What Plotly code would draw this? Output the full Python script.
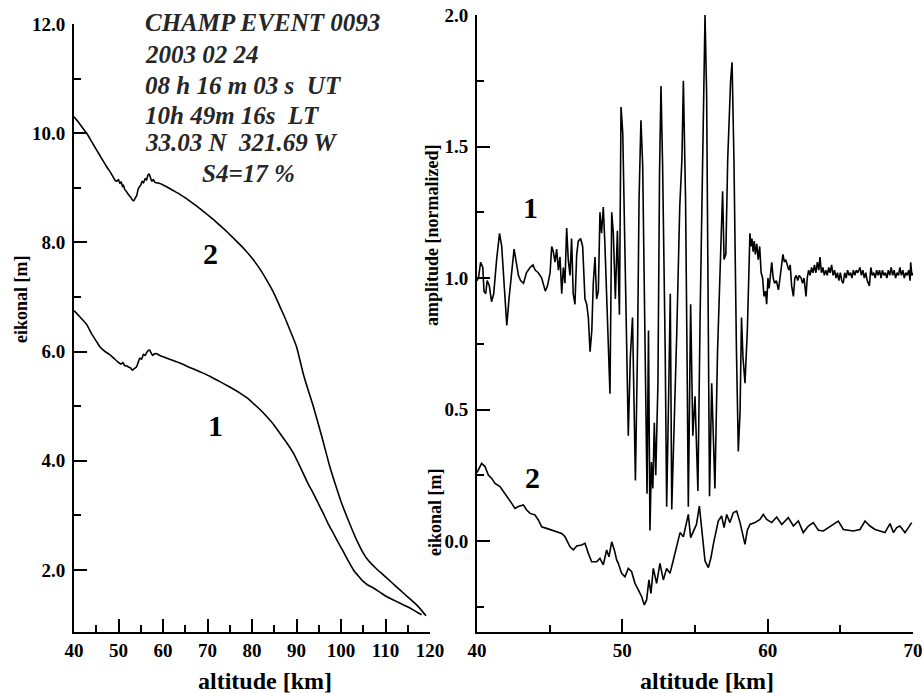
import plotly.graph_objects as go

# ---------------- data: left panel (eikonal vs altitude) ----------------
alt_l1 = [40.0, 41.5, 42.9, 44.0, 45.1, 45.8, 47.0, 48.1, 49.2, 50.0, 50.6, 51.0, 51.4, 51.8,
          52.2, 52.7, 53.1, 53.4, 53.8, 54.1, 54.5, 54.8, 55.2, 55.6, 56.0, 56.3, 56.7, 57.0,
          57.3, 57.7, 58.1, 58.6, 59.3, 61.5, 63.8, 66.0, 68.3, 70.5, 72.8, 75.0, 77.3, 78.9,
          80.3, 81.8, 83.3, 84.8, 86.3, 87.8, 89.3, 90.4, 91.5, 92.6, 93.8, 94.9, 96.0, 97.1,
          98.3, 99.4, 100.5, 101.6, 102.8, 103.9, 105.0, 106.1, 107.3, 108.8, 110.3, 111.8,
          113.3, 114.8, 116.2, 117.2, 118.1]
eik_l1 = [6.75, 6.62, 6.49, 6.32, 6.18, 6.09, 6.00, 5.94, 5.86, 5.80, 5.77, 5.80, 5.74, 5.74,
          5.72, 5.70, 5.66, 5.68, 5.70, 5.73, 5.82, 5.88, 5.86, 5.95, 5.93, 5.98, 6.02, 6.03,
          5.98, 5.93, 5.96, 5.96, 5.93, 5.86, 5.79, 5.71, 5.63, 5.55, 5.45, 5.35, 5.24, 5.15,
          5.05, 4.94, 4.81, 4.67, 4.50, 4.33, 4.14, 3.96, 3.77, 3.58, 3.40, 3.22, 3.04, 2.85,
          2.67, 2.50, 2.34, 2.17, 2.00, 1.89, 1.79, 1.72, 1.67, 1.59, 1.51, 1.45,
          1.39, 1.33, 1.27, 1.22, 1.18]

alt_l2 = [40.0, 41.0, 42.0, 42.85, 44.0, 45.1, 46.2, 47.3, 48.3, 49.2, 49.6, 50.0, 50.3, 50.6,
          50.9, 51.1, 51.4, 51.8, 52.2, 52.7, 53.1, 53.4, 53.8, 54.1, 54.4, 54.7, 55.0, 55.3,
          55.6, 56.0, 56.3, 56.6, 56.9, 57.2, 57.5, 57.8, 58.2, 58.6, 59.3, 60.8, 62.3, 63.8,
          65.3, 66.8, 68.3, 69.8, 71.3, 72.8, 74.3, 75.8, 77.3, 78.8, 80.3, 81.8, 83.3, 84.8,
          86.3, 87.4, 88.5, 90.0, 91.5, 92.6, 93.8, 95.7, 97.5, 99.0, 100.1, 101.3, 102.4,
          103.5, 104.6, 105.8, 107.6, 109.5, 111.4, 113.3, 115.1, 117.0, 118.1, 119.1]
eik_l2 = [10.30, 10.20, 10.09, 10.00, 9.84, 9.69, 9.54, 9.39, 9.27, 9.14, 9.12, 9.15, 9.08, 9.11,
          9.02, 9.05, 8.97, 8.93, 8.88, 8.83, 8.78, 8.76, 8.82, 8.86, 8.97, 9.02, 9.05, 9.12,
          9.09, 9.17, 9.14, 9.23, 9.25, 9.18, 9.12, 9.15, 9.10, 9.09, 9.08, 9.02, 8.95, 8.88,
          8.80, 8.71, 8.62, 8.52, 8.42, 8.31, 8.20, 8.08, 7.96, 7.83, 7.68, 7.51, 7.31, 7.09,
          6.82, 6.62, 6.40, 6.09, 5.60, 5.30, 4.99, 4.44, 3.89, 3.50, 3.23, 2.98, 2.76,
          2.55, 2.37, 2.21, 2.05, 1.91, 1.77, 1.63, 1.50, 1.36, 1.26, 1.16]

# ---------------- data: right panel ----------------
# curve 1: amplitude [normalized]
alt_r1 = [40.0, 40.1, 40.25, 40.4, 40.48, 40.6, 40.7, 40.85, 41.0, 41.15, 41.35, 41.55, 41.7,
          41.87, 42.05, 42.2, 42.4, 42.55, 42.7, 42.85, 43.0, 43.2, 43.4, 43.65, 43.85, 44.0,
          44.22, 44.45, 44.7, 44.85, 45.03, 45.14, 45.25, 45.37, 45.48, 45.6, 45.71, 45.83,
          45.94, 46.05, 46.17, 46.28, 46.4, 46.51, 46.62, 46.74, 46.86, 46.97, 47.13, 47.27,
          47.43, 47.55, 47.66, 47.78, 47.9, 48.0, 48.12, 48.23, 48.35, 48.46, 48.57, 48.69,
          48.8, 48.92, 49.04, 49.15, 49.27, 49.38, 49.52, 49.66, 49.8, 49.91, 50.03, 50.18,
          50.3, 50.41, 50.55, 50.7, 50.9, 51.05, 51.15, 51.28, 51.4, 51.55, 51.7, 51.8, 51.9,
          52.0, 52.1, 52.2, 52.3, 52.45, 52.56, 52.66, 52.77, 52.95, 53.05, 53.2, 53.3, 53.4,
          53.55, 53.75, 53.95, 54.1, 54.2, 54.35, 54.45, 54.54, 54.7, 54.85, 55.0, 55.2,
          55.35, 55.55, 55.69, 55.8, 55.92, 56.0, 56.15, 56.37, 56.55, 56.75, 56.9, 57.0,
          57.12, 57.25, 57.45, 57.55, 57.68, 57.85, 57.98, 58.1, 58.2, 58.3, 58.44, 58.6,
          58.78, 58.85, 58.92, 59.0, 59.08, 59.15, 59.25, 59.35, 59.45, 59.55, 59.65, 59.75,
          59.85, 59.93, 60.02, 60.1, 60.2, 60.28, 60.38, 60.48, 60.6, 60.74, 60.85, 60.95,
          61.05, 61.15, 61.25, 61.35, 61.45, 61.55, 61.65, 61.77, 61.87, 61.97, 62.07, 62.17,
          62.3, 62.4, 62.5, 62.64, 62.72, 62.82, 62.92, 63.02, 63.12, 63.22, 63.32, 63.42,
          63.52, 63.6, 63.7, 63.8, 63.9, 64.0, 64.1, 64.2, 64.3, 64.4, 64.5, 64.6, 64.7, 64.8,
          64.9, 65.0, 65.1, 65.2, 65.3, 65.4, 65.5, 65.6, 65.7, 65.8, 65.9, 66.0, 66.1, 66.2,
          66.35, 66.45, 66.55, 66.65, 66.75, 66.85, 67.0, 67.1, 67.2, 67.3, 67.4, 67.5, 67.6,
          67.7, 67.8, 67.9, 68.0, 68.1, 68.2, 68.3, 68.4, 68.5, 68.6, 68.7, 68.8, 68.9, 69.0,
          69.1, 69.2, 69.3, 69.4, 69.5, 69.6, 69.7, 69.8, 69.84, 69.92, 70.0]
amp_r1 = [0.99, 1.00, 1.06, 1.04, 0.95, 0.94, 0.99, 0.97, 0.91, 0.94, 1.07, 1.17, 1.12,
          0.95, 0.82, 0.92, 1.04, 1.11, 1.06, 1.01, 0.99, 0.98, 1.02, 1.04, 1.05, 1.03,
          1.02, 1.00, 0.95, 0.97, 1.02, 1.12, 1.10, 1.06, 1.11, 1.03, 1.08, 0.94,
          1.04, 0.98, 1.19, 1.07, 1.01, 1.15, 0.94, 0.90, 1.09, 1.14, 1.15, 1.12,
          0.92, 0.90, 0.85, 0.72, 0.80, 0.98, 1.08, 0.92, 0.95, 1.25, 1.17, 1.27,
          1.13, 0.92, 0.77, 0.56, 1.25, 1.17, 0.92, 1.18, 0.86, 1.65, 1.55, 1.17,
          0.74, 0.40, 0.70, 0.85, 0.23, 0.75, 1.30, 1.60, 1.43, 0.80, 0.18, 0.80, 0.04,
          0.30, 0.20, 0.45, 0.25, 0.60, 1.40, 1.73, 1.43, 0.72, 0.13, 0.60, 0.94, 0.12,
          0.40, 0.80, 1.27, 1.45, 1.75, 1.30, 0.72, 0.13, 0.90, 0.40, 0.55, 0.19,
          0.85, 1.60, 2.00, 1.70, 0.72, 0.17, 0.60, 0.20, 0.72, 1.10, 1.33, 1.07,
          1.09, 1.45, 1.75, 1.82, 1.45, 0.73, 0.34, 0.49, 0.85, 0.70, 0.60, 0.80,
          1.17, 1.12, 1.15, 1.10, 1.14, 1.09, 1.13, 1.07, 1.12, 1.02, 1.00, 0.93,
          0.95, 0.90, 1.00, 0.96, 1.03, 1.06, 1.00, 0.98, 0.99, 0.955, 1.00, 1.05,
          1.09, 1.06, 1.07, 1.05, 1.03, 1.05, 0.97, 0.93, 1.00, 1.01, 0.99, 1.01,
          1.00, 0.98, 1.00, 0.93, 1.00, 1.03, 1.01, 1.04, 1.02, 1.05, 1.02, 1.06,
          1.03, 1.08, 1.02, 1.04, 1.01, 1.03, 1.01, 1.04, 1.02, 1.05, 1.01, 1.03, 1.00, 1.02,
          0.99, 1.02, 0.99, 0.98, 1.02, 1.00, 1.03, 1.01, 1.02, 1.00, 1.03, 1.01, 1.03, 1.02,
          1.04, 1.01, 1.03, 1.00, 1.02, 0.99, 0.97, 1.04, 1.01, 1.02, 1.00, 1.03, 1.01,
          1.03, 1.00, 1.03, 1.01, 1.02, 1.00, 1.03, 1.01, 1.04, 1.01, 1.03, 1.00, 1.02, 1.01,
          1.04, 1.01, 1.03, 1.00, 1.02, 1.01, 1.03, 0.99, 1.06, 1.01, 1.02]

# curve 2: eikonal [m]
alt_r2 = [40.0, 40.09, 40.32, 40.55, 40.78, 41.01, 41.24, 41.58, 41.93, 42.16, 42.39, 42.61,
          42.84, 43.19, 43.42, 43.65, 43.99, 44.22, 44.45, 44.79, 45.14, 45.48, 45.83, 46.06,
          46.4, 46.63, 46.86, 47.2, 47.43, 47.66, 47.89, 48.23, 48.46, 48.69, 48.92, 49.08,
          49.27, 49.45, 49.61, 49.72, 49.95, 50.18, 50.41, 50.64, 50.87, 51.1, 51.33, 51.51,
          51.67, 51.83, 51.97, 52.13, 52.36, 52.59, 52.82, 53.05, 53.28, 53.51, 53.74, 53.97,
          54.2, 54.54, 54.7, 54.89, 55.1, 55.3, 55.45, 55.69, 55.92, 56.1, 56.26, 56.45, 56.6,
          56.83, 57.0, 57.18, 57.4, 57.64, 57.87, 58.1, 58.28, 58.44, 58.6, 58.78, 59.13,
          59.47, 59.7, 59.93, 60.28, 60.62, 60.97, 61.42, 61.77, 62.11, 62.45, 62.8, 63.14,
          63.49, 63.83, 64.17, 64.52, 64.86, 65.21, 65.55, 65.89, 66.35, 66.7, 67.04, 67.39,
          67.73, 68.07, 68.42, 68.65, 68.88, 69.1, 69.45, 69.68, 69.91]
eik_r2 = [0.26, 0.27, 0.295, 0.283, 0.251, 0.238, 0.219, 0.207, 0.181, 0.162, 0.143, 0.124,
          0.131, 0.137, 0.118, 0.105, 0.099, 0.080, 0.054, 0.048, 0.042, 0.035, 0.029, 0.016,
          -0.022, -0.034, -0.019, -0.015, -0.009, -0.047, -0.079, -0.079, -0.066, -0.091, -0.034, -0.060,
          -0.003, -0.034, -0.072, -0.085, -0.123, -0.136, -0.104, -0.117, -0.161, -0.186, -0.212, -0.243,
          -0.224, -0.148, -0.199, -0.104, -0.161, -0.085, -0.148, -0.104, -0.123, -0.072, -0.022, 0.032,
          0.016, 0.101, 0.013, 0.038, 0.063, 0.133, 0.051, -0.076, -0.101, -0.063, -0.013, 0.038, 0.076,
          0.095, 0.051, 0.101, 0.070, 0.108, 0.114, 0.070, 0.020, -0.013, 0.041, 0.063, 0.070,
          0.082, 0.101, 0.082, 0.070, 0.091, 0.063, 0.089, 0.057, 0.076, 0.032, 0.057, 0.070,
          0.041, 0.038, 0.051, 0.063, 0.076, 0.044, 0.041, 0.038, 0.044, 0.076, 0.057, 0.044,
          0.038, 0.032, 0.066, 0.032, 0.051, 0.057, 0.032, 0.051, 0.070]

# tick labels
left_x_ticks = [40, 50, 60, 70, 80, 90, 100, 110, 120]
left_y_ticks = [2, 4, 6, 8, 10, 12]
left_y_labels = ["2.0", "4.0", "6.0", "8.0", "10.0", "12.0"]
right_x_ticks = [40, 50, 60, 70]
right_y_ticks = [0.0, 0.5, 1.0, 1.5, 2.0]
right_y_labels = ["0.0", "0.5", "1.0", "1.5", "2.0"]

# ---------------- figure ----------------
W, H = 922, 693


def px(x):
    return x / W


def py(y):
    return 1 - y / H


def bold(labels):
    return [f"<b>{t}</b>" for t in labels]


SERIF = "Liberation Serif"
fig = go.Figure()

line_style = dict(color="black", width=1.6)
fig.add_trace(go.Scatter(x=alt_l1, y=eik_l1, mode="lines", line=dict(shape="spline", smoothing=0.6, **line_style),
                         xaxis="x", yaxis="y", hoverinfo="skip"))
fig.add_trace(go.Scatter(x=alt_l2, y=eik_l2, mode="lines", line=dict(shape="spline", smoothing=0.6, **line_style),
                         xaxis="x", yaxis="y", hoverinfo="skip"))
fig.add_trace(go.Scatter(x=alt_r1, y=amp_r1, mode="lines", line=dict(color="black", width=1.6),
                         xaxis="x2", yaxis="y2", hoverinfo="skip"))
fig.add_trace(go.Scatter(x=alt_r2, y=eik_r2, mode="lines", line=dict(color="black", width=1.6),
                         xaxis="x2", yaxis="y2", hoverinfo="skip"))

tickfont = dict(family=SERIF, size=19, color="black")
common = dict(showline=True, linecolor="black", linewidth=2, ticks="inside", ticklen=13,
              tickwidth=2, tickcolor="black", showgrid=False, zeroline=False,
              tickfont=tickfont, automargin=False, ticklabeloverflow="allow", tickmode="array")
minor_style = dict(ticks="inside", ticklen=7, tickwidth=2, tickcolor="black", tickmode="array")

fig.update_layout(
    template="none",
    width=W, height=H,
    margin=dict(l=0, r=0, t=0, b=0, pad=0, autoexpand=False),
    paper_bgcolor="white", plot_bgcolor="white",
    showlegend=False,
    xaxis=dict(domain=[px(74), px(430)], range=[40, 120],
               tickvals=left_x_ticks, ticktext=bold([str(v) for v in left_x_ticks]),
               minor=dict(tickvals=[45, 55, 65, 75, 85, 95, 105, 115], **minor_style),
               anchor="y", ticklabelstandoff=0, **common),
    yaxis=dict(domain=[py(632), py(24)], range=[0.864, 12.0],
               tickvals=left_y_ticks, ticktext=bold(left_y_labels),
               minor=dict(tickvals=[3, 5, 7, 9, 11], **minor_style),
               anchor="x", ticklabelstandoff=3, **common),
    xaxis2=dict(domain=[px(477), px(913)], range=[40, 70],
                tickvals=right_x_ticks, ticktext=bold([str(v) for v in right_x_ticks]),
                minor=dict(tickvals=[45, 55, 65], **minor_style),
                anchor="y2", ticklabelstandoff=0, **common),
    yaxis2=dict(domain=[py(632), py(15)], range=[-0.346, 2.0],
                tickvals=right_y_ticks, ticktext=bold(right_y_labels),
                minor=dict(tickvals=[-0.25, 0.25, 0.75, 1.25, 1.75], **minor_style),
                anchor="x2", ticklabelstandoff=3, **common),
)

ann = []


def add_text(text, x, y, size, bold=True, italic=False, angle=0, xanchor="center", color="black"):
    ann.append(dict(text=text, x=px(x), y=py(y), xref="paper", yref="paper", showarrow=False,
                    xanchor=xanchor, yanchor="middle", textangle=angle,
                    font=dict(family=SERIF, size=size, color=color,
                              weight="bold" if bold else "normal",
                              style="italic" if italic else "normal")))


# axis titles
add_text("altitude [km]", 265, 681, 24)
add_text("altitude [km]", 707, 681, 24)
add_text("eikonal [m]", 21, 299, 18, angle=-90)
add_text("amplitude [normalized]", 432, 235, 18, angle=-90)
add_text("eikonal [m]", 435, 512, 18, angle=-90)

# curve labels
add_text("2", 210, 254, 30)
add_text("1", 215, 425, 30)
add_text("1", 530, 207, 30)
add_text("2", 532, 477, 30)

# event info block
NB = "\u00a0"
info_lines = ["CHAMP EVENT 0093", "2003 02 24", f"08 h 16 m 03 s{NB}{NB}UT",
              f"10h 49m 16s{NB}{NB}LT", f"33.03 N{NB}{NB}321.69 W"]
info_y = [22, 55, 85, 115, 143]
for t, yy in zip(info_lines, info_y):
    add_text(t, 143, yy, 25, bold=True, italic=True, xanchor="left", color="#262626")
add_text("S4=17 %", 249, 173, 25, bold=True, italic=True, color="#262626")

fig.update_layout(annotations=ann)

fig.write_html("out.html", config={"displayModeBar": False},
               post_script="document.body.style.margin='0';document.body.style.overflow='hidden';")
